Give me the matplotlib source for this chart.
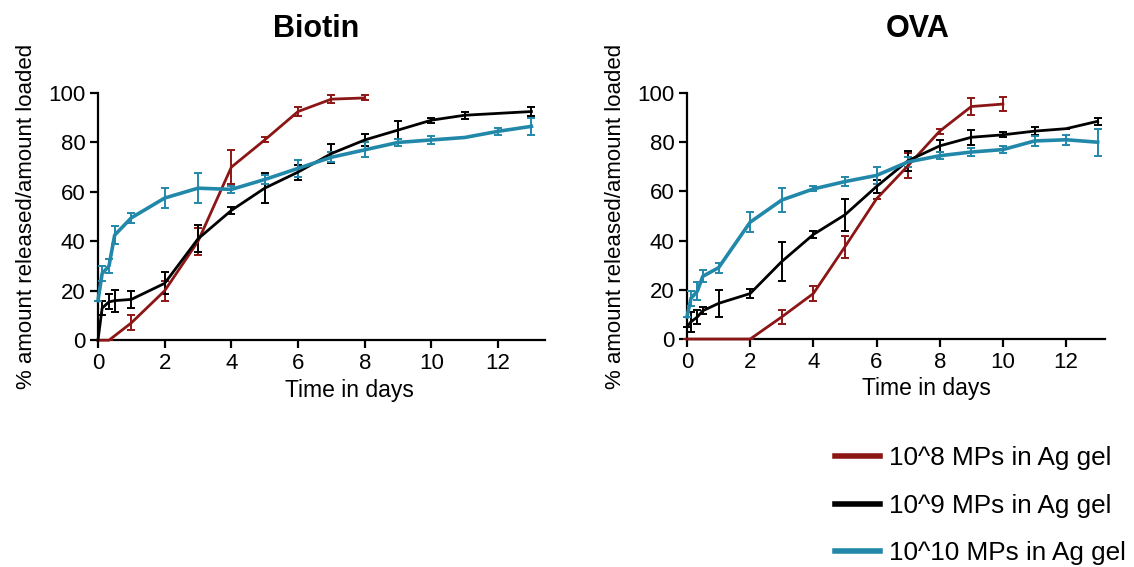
import matplotlib
matplotlib.use("Agg")
import matplotlib.pyplot as plt
from matplotlib.lines import Line2D

plt.rcParams['font.family'] = ['Liberation Sans', 'DejaVu Sans']

# colours
c_red = '#8c1515'
c_blk = '#000000'
c_blu = '#2288aa'

labels = ['10^8 MPs in Ag gel', '10^9 MPs in Ag gel', '10^10 MPs in Ag gel']

# Biotin
bio_t_red = [0, 0.125, 0.33, 1, 2, 3, 4, 5, 6, 7, 8]
bio_red = [0, 0, 0, 7, 20, 40, 70, 81, 92.5, 97.5, 98]
bio_red_err = [0, 0, 0, 3, 4, 5.5, 7, 1, 2, 1.5, 1]

bio_t = [0, 0.125, 0.33, 0.5, 1, 2, 3, 4, 5, 6, 7, 8, 9, 10, 11, 13]
bio_blk = [0, 13, 15.5, 16, 16.5, 23, 41, 52.5, 61.5, 68, 75.5, 81, 85, 89, 91, 92.5]
bio_blk_err = [0, 3, 3, 4.5, 3.5, 4.5, 5.5, 1.5, 6, 3, 4, 2.5, 3.5, 1, 1.5, 2]

bio_t_blu = [0, 0.125, 0.33, 0.5, 1, 2, 3, 4, 5, 6, 7, 8, 9, 10, 11, 12, 13]
bio_blu = [16, 27, 30, 42.5, 49.5, 57.5, 61.5, 61, 65, 69.5, 74, 77, 80, 81, 82, 84.5, 86.5]
bio_blu_err = [0, 3, 3, 3.5, 2, 4, 6, 1.5, 2, 3.5, 2, 3, 1.5, 1.5, 0, 1.5, 3.5]

# OVA
ova_t_red = [0, 0.33, 1, 2, 3, 4, 5, 6, 7, 8, 9, 10]
ova_red = [0, 0, 0, 0, 9, 18.5, 37.5, 57, 70.5, 84.5, 94.5, 95.5]
ova_red_err = [0, 0, 0, 0, 3, 3, 4.5, 0, 5, 1, 3.5, 3]

ova_t = [0, 0.125, 0.33, 0.5, 1, 2, 3, 4, 5, 6, 7, 8, 9, 10, 11, 12, 13]
ova_blk = [5, 7, 9, 11.5, 14.5, 18.5, 31.5, 42.5, 50.5, 62, 72.5, 78.5, 82, 83, 84.5, 85.5, 88.5]
ova_blk_err = [0, 4, 3, 1.5, 5.5, 2, 8, 1.5, 6.5, 2.5, 4, 2.5, 3, 1, 1.5, 0, 1.5]

ova_blu = [9, 16.5, 19.5, 25.5, 29, 47.5, 56.5, 61, 64, 66.5, 72, 74.5, 76, 77, 80.5, 81, 80]
ova_blu_err = [0, 3, 3.5, 2.5, 2, 4, 5, 1, 2, 3.5, 2, 1.5, 1.5, 1.5, 2, 2, 5.5]


fig = plt.figure(figsize=(11.34, 5.67), dpi=100)
ax1 = fig.add_axes([0.0864, 0.400, 0.394, 0.436])
ax2 = fig.add_axes([0.6058, 0.402, 0.3686, 0.434])


def draw(ax, series, xmax, title, title_x, xlab_x):
    for t, y, e, c, lw in series:
        ax.errorbar(t, y, yerr=e, color=c, lw=lw, elinewidth=1.4,
                    capsize=3, capthick=1.4, clip_on=False, zorder=3)
    ax.set_xlim(0, xmax)
    ax.set_ylim(0, 100)
    ax.set_xticks(range(0, 13, 2))
    ax.set_yticks(range(0, 101, 20))
    for s in ['top', 'right']:
        ax.spines[s].set_visible(False)
    for s in ['left', 'bottom']:
        ax.spines[s].set_linewidth(1.6)
    ax.tick_params(width=1.6, length=6, labelsize=16, pad=3)
    ax.set_xlabel('Time in days', fontsize=16.5)
    ax.xaxis.set_label_coords(xlab_x, -0.155)
    ax.set_ylabel('% amount released/amount loaded', fontsize=16, labelpad=8)
    ax.set_title(title, fontsize=22, fontweight='bold', pad=40, x=title_x)


draw(ax1, [(bio_t_red, bio_red, bio_red_err, c_red, 2.0),
           (bio_t, bio_blk, bio_blk_err, c_blk, 2.0),
           (bio_t_blu, bio_blu, bio_blu_err, c_blu, 2.6)], 13.4, 'Biotin', 0.488, 0.562)
draw(ax2, [(ova_t_red, ova_red, ova_red_err, c_red, 2.0),
           (ova_t, ova_blk, ova_blk_err, c_blk, 2.0),
           (ova_t, ova_blu, ova_blu_err, c_blu, 2.6)], 13.23, 'OVA', 0.553, 0.572)

handles = [Line2D([], [], color=c, lw=4) for c in [c_red, c_blk, c_blu]]
fig.legend(handles, labels, loc='upper left', bbox_to_anchor=(0.736, 0.213),
           frameon=False, fontsize=18.8, handlelength=1.72, handletextpad=0.38,
           labelspacing=0.9, borderpad=0, borderaxespad=0)

fig.savefig('out.png', dpi=100)
